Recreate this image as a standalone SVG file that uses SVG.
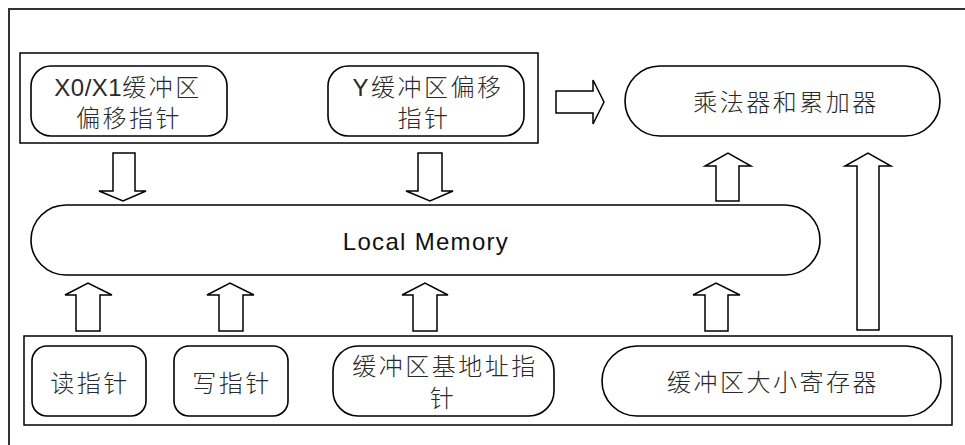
<svg xmlns="http://www.w3.org/2000/svg" width="965" height="445" viewBox="0 0 965 445">
<style>
.frame{fill:none;stroke:#000;stroke-width:1.5}
.outer{fill:none;stroke:#333;stroke-width:2}
.node{fill:#fff;stroke:#000;stroke-width:1.6}
.arrow{fill:#fff;stroke:#000;stroke-width:1.5;stroke-linejoin:miter}
.t{font-family:"Liberation Sans","Noto Sans CJK SC",sans-serif;font-size:24px;font-weight:300;fill:#2a2a2a;text-anchor:middle;letter-spacing:2.5px}
.lat{letter-spacing:0.5px}
.lm{font-family:"Liberation Sans",sans-serif;font-size:24px;fill:#111;text-anchor:middle;letter-spacing:1.3px}
</style>
<rect width="965" height="445" fill="#fff"/>
<rect class="outer" x="9" y="9" width="1000" height="500"/>
<g id="top-group">
<rect class="frame" x="20" y="53" width="518" height="90"/>
</g>
<g id="bottom-group">
<rect class="frame" x="24" y="336" width="928" height="89"/>
</g>
<g id="x0x1-offset">
<rect class="node" x="31" y="66" width="196" height="70" rx="20"/>
<text class="t" x="128" y="96"><tspan class="lat">X0/X1</tspan>缓冲区</text>
<text class="t" x="129" y="127">偏移指针</text>
</g>
<g id="y-offset">
<rect class="node" x="328" y="66" width="196" height="70" rx="20"/>
<text class="t" x="428" y="96">Y缓冲区偏移</text>
<text class="t" x="424" y="127">指针</text>
</g>
<g id="mac">
<rect class="node" x="625" y="66" width="315" height="70" rx="35"/>
<text class="t" x="786" y="111">乘法器和累加器</text>
</g>
<g id="local-memory">
<rect class="node" x="31" y="205" width="789" height="70" rx="35"/>
<text class="lm" x="426" y="250">Local Memory</text>
</g>
<g id="read-ptr">
<rect class="node" x="32" y="346" width="114" height="70" rx="15"/>
<text class="t" x="90" y="392">读指针</text>
</g>
<g id="write-ptr">
<rect class="node" x="174" y="346" width="114" height="70" rx="15"/>
<text class="t" x="232" y="392">写指针</text>
</g>
<g id="base-addr-ptr">
<rect class="node" x="333" y="346" width="221" height="70" rx="25"/>
<text class="t" x="445" y="375">缓冲区基地址指</text>
<text class="t" x="443" y="407">针</text>
</g>
<g id="size-reg">
<rect class="node" x="602" y="346" width="339" height="70" rx="35"/>
<text class="t" x="773" y="391">缓冲区大小寄存器</text>
</g>
<g id="connectors">
<polygon class="arrow" points="556,91 593,91 593,80 604,102 593,124 593,113 556,113"/>
<polygon class="arrow" points="113,153 135,153 135,191 146,191 123,201 99,191 113,191"/>
<polygon class="arrow" points="418,153 442,153 442,191 453,191 430,201 406,191 418,191"/>
<polygon class="arrow" points="716,201 739,201 739,166 751,166 728,153 705,166 716,166"/>
<polygon class="arrow" points="857,330 879,330 879,166 891,166 868,153 845,166 857,166"/>
<polygon class="arrow" points="76,331 100,331 100,295 112,295 88,283 65,295 76,295"/>
<polygon class="arrow" points="219,331 243,331 243,295 254,295 230,283 207,295 219,295"/>
<polygon class="arrow" points="413,331 437,331 437,295 448,295 425,283 402,295 413,295"/>
<polygon class="arrow" points="705,331 728,331 728,295 740,295 716,283 693,295 705,295"/>
</g>
</svg>
